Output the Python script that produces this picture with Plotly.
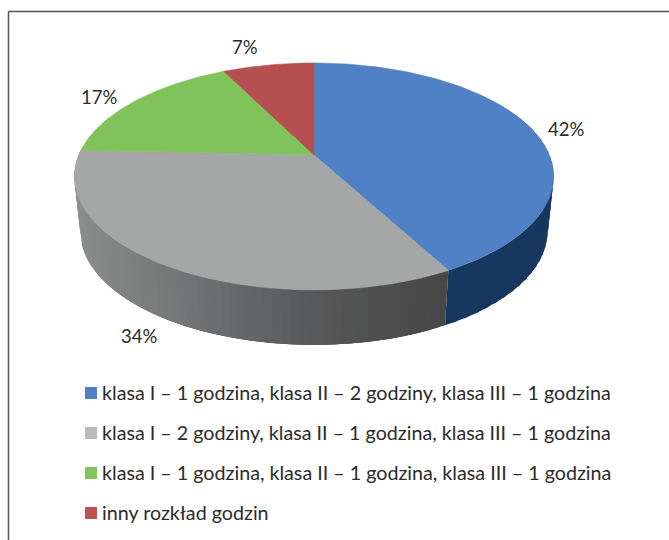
import numpy as np
import plotly.graph_objects as go

categories = [
    "klasa I – 1 godzina, klasa II – 2 godziny, klasa III – 1 godzina",
    "klasa I – 2 godziny, klasa II – 1 godzina, klasa III – 1 godzina",
    "klasa I – 1 godzina, klasa II – 1 godzina, klasa III – 1 godzina",
    "inny rozkład godzin",
]
values = [42.1, 33.6, 16.9, 7.4]
top_colors = ["#5081c4", "#a5a6a6", "#80c35a", "#b65050"]
key_colors = ["#4f81c4", "#b9babd", "#84c45c", "#bb5350"]
label_xy = [(566, 129), (139, 336), (99, 97), (245, 47)]
key_y = [393, 433, 473, 513]

FONT = "Lato"
TXT = "#2b2b2b"
CX, CY, A, B, K = 314, 155, 235.3, 109.4, 0.189
DEPTH, SHRINK = 55, 0.975


def top(t):
    X, Y = np.sin(t), np.cos(t)
    d = 1 + K * Y
    return CX + A * X / d, CY - B * Y / d


def bottom(t):
    x, y = top(t)
    return CX + (x - CX) * SHRINK, y + DEPTH


def hex2rgb(h):
    return np.array([int(h[i:i + 2], 16) for i in (1, 3, 5)], float)


side_x = [75, 140, 200, 300, 380, 450]
side_c = [hex2rgb(c) for c in ["#8c8d8d", "#7d7e7e", "#707172", "#5a5b5c", "#505050", "#474747"]]


def grey_side(x):
    return "rgb(%d,%d,%d)" % tuple(np.interp(x, side_x, [c[i] for c in side_c]) for i in range(3))


fracs = np.cumsum([0] + values) / sum(values)
angles = 2 * np.pi * fracs

fig = go.Figure()


def poly(xs, ys, color, lw=0.6):
    fig.add_trace(go.Scatter(x=xs, y=ys, mode="lines", fill="toself", fillcolor=color,
                             line=dict(color=color, width=lw), hoverinfo="skip", showlegend=False))


def strip(t0, t1, color):
    ts = np.linspace(t0, t1, 6)
    tx, ty = top(ts)
    bx, by = bottom(ts)
    poly(list(tx) + list(bx[::-1]), list(ty) + list(by[::-1]), color, lw=0)


# outer wall: first slice (dark navy), second slice (grey shaded strips)
edges = np.linspace(np.pi * 0.35, angles[1], 30)
for t0, t1 in zip(edges[:-1], edges[1:]):
    strip(t0, min(t1 + 0.02, angles[1]), "#17375e")
edges = np.linspace(angles[1], angles[2], 70)
step = edges[1] - edges[0]
for t0, t1 in zip(edges[:-1], edges[1:]):
    mx, _ = top((t0 + t1) / 2)
    strip(t0, min(t1 + 2 * step, angles[2]), grey_side(mx))

# top faces
for i, c in enumerate(top_colors):
    ts = np.linspace(angles[i], angles[i + 1], 120)
    x, y = top(ts)
    poly([CX] + list(x) + [CX], [CY] + list(y) + [CY], c)

# key
for name, color, y in zip(categories, key_colors, key_y):
    fig.add_trace(go.Scatter(x=[91], y=[y], mode="markers",
                             marker=dict(symbol="square", size=12, color=color, line=dict(width=0)),
                             name=name, showlegend=False, hoverinfo="skip"))
    fig.add_annotation(x=102, y=y - 0.5, text=name, showarrow=False, xanchor="left", xshift=-2,
                       font=dict(family=FONT, size=19.7, color=TXT))

for v, (x, y) in zip(values, label_xy):
    fig.add_annotation(x=x, y=y, text=f"{round(v)}%", showarrow=False,
                       font=dict(family=FONT, size=18.5, color=TXT))

# frame
fig.add_shape(type="line", x0=8.5, x1=8.5, y0=11.5, y1=540, line=dict(color="#555555", width=1.5))
fig.add_shape(type="line", x0=8.5, x1=669, y0=11.5, y1=11.5, line=dict(color="#555555", width=1.5))

fig.update_xaxes(range=[0, 669], visible=False, fixedrange=True)
fig.update_yaxes(range=[540, 0], visible=False, fixedrange=True)
fig.update_layout(width=669, height=540, margin=dict(l=0, r=0, t=0, b=0),
                  paper_bgcolor="white", plot_bgcolor="white", showlegend=False)
fig.write_html("out.html", config={"displayModeBar": False},
               post_script="document.body.style.margin='0';document.body.style.overflow='hidden';")
